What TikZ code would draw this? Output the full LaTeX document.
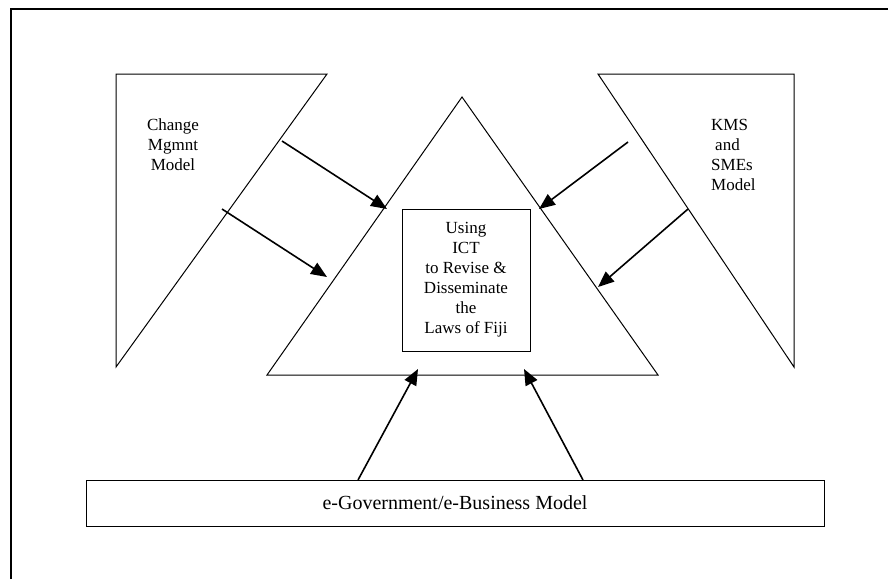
\documentclass[tikz,border=0pt]{standalone}
\usepackage{fontspec}
\setmainfont{Liberation Serif}
\usetikzlibrary{arrows.meta, positioning}

\begin{document}
\begin{tikzpicture}[x=1pt, y=-1pt,
  outline/.style={draw, line width=1pt},
  txt/.style={font=\fontsize{17}{20}\selectfont, align=center, inner sep=0pt},
  box/.style={draw, line width=1pt, inner sep=0pt},
  line/.style={draw, line width=1.6pt, -{Triangle[length=16pt, width=13pt]}}]
  \useasboundingbox (0,0) rectangle (888,579);
  % page frame
  \draw [line width=1.3pt] (11,579) -- (11,9) -- (888,9);
  % the three triangles
  \draw [outline] (116,74) -- (327,74) -- (116,367) -- cycle;
  \draw [outline] (462,97) -- (658,375) -- (267,375) -- cycle;
  \draw [outline] (598,74) -- (794,74) -- (794,367) -- cycle;
  % texts
  \node [txt] (change) at (173,145) {Change\\Mgmnt\\Model};
  \node [txt, align=left, anchor=west] (kms) at (711,155) {KMS\\\hspace{4pt}and\\SMEs\\Model};
  \node [box, txt, minimum width=128pt, minimum height=142pt] (ict) at (466,280)
    {Using\\ICT\\to Revise \&\\Disseminate\\the\\Laws of Fiji};
  \node [box, txt, font=\fontsize{20}{24}\selectfont, minimum width=738pt, minimum height=46pt] (egov) at (455,503)
    {e-Government/e-Business Model};
  % arrow ends
  \coordinate (cm1) at (282,141);
  \coordinate (cm2) at (222,209);
  \coordinate (tl1) at (387,209);
  \coordinate (tl2) at (327,277);
  \coordinate (km1) at (628,142);
  \coordinate (km2) at (688,209);
  \coordinate (tr1) at (539,209);
  \coordinate (tr2) at (598,287);
  \coordinate (eg1) at (358,480);
  \coordinate (eg2) at (583,480);
  \coordinate (tb1) at (418,369);
  \coordinate (tb2) at (524,369);
  \draw [line] (cm1) -- (tl1);
  \draw [line] (cm2) -- (tl2);
  \draw [line] (km1) -- (tr1);
  \draw [line] (km2) -- (tr2);
  \draw [line] (eg1) -- (tb1);
  \draw [line] (eg2) -- (tb2);
\end{tikzpicture}
\end{document}
